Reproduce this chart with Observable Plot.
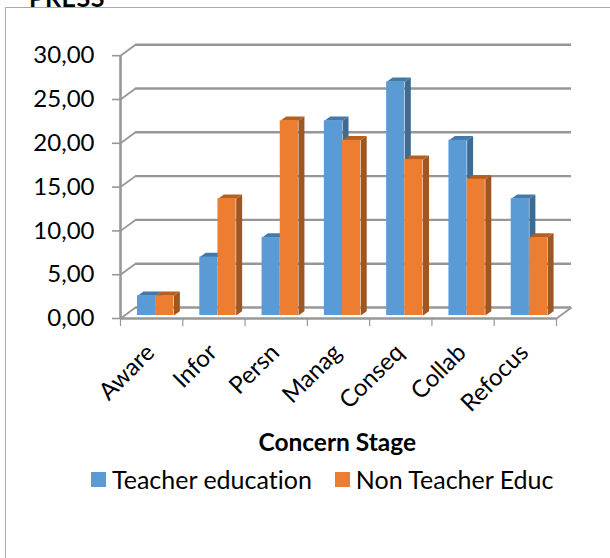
<!DOCTYPE html>
<html>
<head>
<meta charset="utf-8">
<script src="https://cdn.jsdelivr.net/npm/d3@7"></script>
<script src="https://cdn.jsdelivr.net/npm/@observablehq/plot@0.6"></script>
<style>
  html, body { margin: 0; padding: 0; background: #fff; }
  #page { position: relative; width: 610px; height: 558px; overflow: hidden; font-family: Lato, sans-serif; font-variant-ligatures: none; }
  #press { position: absolute; left: 29px; top: 0; height: 7px; overflow: hidden; font-weight: 700; font-size: 25px; line-height: 14px; color: #000; letter-spacing: .5px; }
  #press span { display: block; margin-top: -10px; }
  #frame { position: absolute; left: 5px; top: 7px; right: -2px; bottom: -2px; border-left: 1.5px solid #aaa; border-top: 1.5px solid #aaa; }
  #chart { position: absolute; left: 0; top: 0; }
  #legend { position: absolute; left: 91px; top: 465px; display: flex; align-items: center; font-size: 25px; color: #000; white-space: nowrap; line-height: 28px; }
  .sw { width: 15px; height: 15px; display: inline-block; margin-right: 6px; }
  .item { display: flex; align-items: center; margin-right: 23px; }
</style>
</head>
<body>
<div id="page">
  <div id="press"><span>PRESS</span></div>
  <div id="frame"></div>
  <div id="chart"></div>
  <div id="legend"></div>
</div>
<script>
const stages = ["Aware", "Infor", "Persn", "Manag", "Conseq", "Collab", "Refocus"];
const teacher = [2.25, 6.67, 8.89, 22.22, 26.67, 20.0, 13.33];
const nonTeacher = [2.25, 13.33, 22.22, 20.0, 17.78, 15.56, 8.89];
const seriesNames = ["Teacher education", "Non Teacher Educ"];
const frontColors = ["#5B9BD5", "#ED7D31"];
const sideColors = ["#3F6A92", "#A0561F"];
const topColors = ["#437AAB", "#B5601F"];
const yTicks = [0, 5, 10, 15, 20, 25, 30];
const axisTitle = "Concern Stage";

// chart-space geometry of the pseudo-3D box, in data units
const FRONT = -0.342, BACK = 0.913, BACK_X = 0.241;
const BAR_START = 0.273, BAR_W = 0.292, DEPTH_X = 0.096, DEPTH_Y = 0.49;

function faces(values, s) {
  const rows = [];
  values.forEach((v, i) => {
    const x1 = i + BAR_START + s * BAR_W, x2 = x1 + BAR_W;
    const side = [[x2, 0], [x2 + DEPTH_X, DEPTH_Y], [x2 + DEPTH_X, v + DEPTH_Y], [x2, v]];
    const top = [[x1, v], [x1 + DEPTH_X, v + DEPTH_Y], [x2 + DEPTH_X, v + DEPTH_Y], [x2, v]];
    side.forEach(p => rows.push({ x: p[0], y: p[1], id: `s${i}`, c: sideColors[s] }));
    top.forEach(p => rows.push({ x: p[0], y: p[1], id: `t${i}`, c: topColors[s] }));
  });
  return rows;
}
const fronts = (values, s) => values.map((v, i) => ({ x1: i + BAR_START + s * BAR_W, x2: i + BAR_START + s * BAR_W + BAR_W, v }));

const GRID = "#979797";
const polygon = rows => Plot.line(rows, { x: "x", y: "y", z: "id", fill: "c", stroke: null, curve: "linear" });

const plot = Plot.plot({
  width: 610, height: 460,
  marginLeft: 120, marginRight: 54, marginTop: 52, marginBottom: 142,
  style: { background: "transparent", fontFamily: "Lato, sans-serif", color: "#000", fontVariantLigatures: "none" },
  x: { type: "linear", domain: [0, 7], range: [120, 556] },
  y: { type: "linear", domain: [0, 30], range: [315, 52.2] },
  color: { type: "identity" },
  marks: [
    Plot.ruleY(yTicks, { x1: BACK_X, x2: 7 + BACK_X, y: d => d + BACK, stroke: GRID, strokeWidth: 2.4 }),
    Plot.link(yTicks, { x1: 0, x2: BACK_X, y1: d => d + FRONT, y2: d => d + BACK, stroke: GRID, strokeWidth: 1.8 }),
    Plot.link([0], { x1: 7, x2: 7 + BACK_X, y1: FRONT, y2: BACK, stroke: GRID, strokeWidth: 1.8 }),
    Plot.ruleY([FRONT], { x1: 0, x2: 7, stroke: GRID, strokeWidth: 2.6 }),
    Plot.ruleX([0], { y1: FRONT, y2: 30 + FRONT, stroke: GRID, strokeWidth: 2.6 }),
    polygon(faces(teacher, 0)),
    Plot.rect(fronts(teacher, 0), { x1: "x1", x2: "x2", y1: 0, y2: "v", fill: frontColors[0] }),
    polygon(faces(nonTeacher, 1)),
    Plot.rect(fronts(nonTeacher, 1), { x1: "x1", x2: "x2", y1: 0, y2: "v", fill: frontColors[1] }),
    Plot.axisY({ ticks: yTicks, tickFormat: d => d.toFixed(2).replace(".", ","), tickSize: 8, tickPadding: 18,
      dy: 3, fontSize: 24, stroke: GRID, strokeWidth: 1.6, fill: "#000", label: null }),
    Plot.axisX({ ticks: d3.range(0, 8), tickFormat: () => "", tickSize: 8, stroke: GRID, strokeWidth: 1.2, label: null }),
    Plot.axisX({ ticks: stages.map((d, i) => i + 0.5), tickFormat: d => stages[d - 0.5], tickSize: 0, tickRotate: -45,
      tickPadding: 30, fontSize: 24, dx: -1, fill: "#000", label: null }),
    Plot.text([axisTitle], { x: 3.48, frameAnchor: "bottom", dy: 125, fontSize: 24.5, fontWeight: 700, fill: "#000", lineAnchor: "middle" })
  ]
});
document.getElementById("chart").appendChild(plot);

const legend = document.getElementById("legend");
seriesNames.forEach((name, i) => {
  const item = document.createElement("div");
  item.className = "item";
  const sw = document.createElement("span");
  sw.className = "sw";
  sw.style.background = frontColors[i];
  item.appendChild(sw);
  item.appendChild(document.createTextNode(name));
  legend.appendChild(item);
});
</script>
</body>
</html>
